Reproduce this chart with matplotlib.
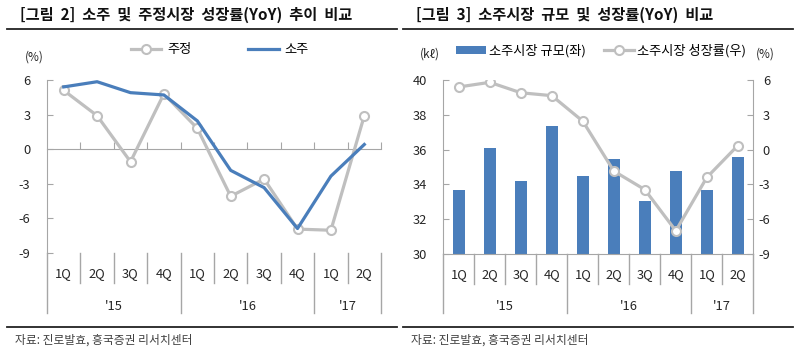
import matplotlib
matplotlib.use("Agg")
import matplotlib.pyplot as plt
from matplotlib.lines import Line2D
from matplotlib.patches import Patch
from matplotlib.transforms import blended_transform_factory
import numpy as np

plt.rcParams['font.family'] = ['Noto Sans CJK KR', 'DejaVu Sans']

# ---------------- data ----------------
quarters = ['1Q', '2Q', '3Q', '4Q', '1Q', '2Q', '3Q', '4Q', '1Q', '2Q']
years = ["'15", "'16", "'17"]
year_counts = [4, 4, 2]

jujeong_growth = [5.1, 2.9, -1.1, 4.8, 1.8, -4.1, -2.6, -6.95, -7.05, 2.9]
soju_growth = [5.4, 5.85, 4.9, 4.7, 2.45, -1.85, -3.35, -6.9, -2.35, 0.4]

soju_market_size = [33.7, 36.1, 34.2, 37.35, 34.5, 35.45, 33.05, 34.75, 33.7, 35.6]
soju_market_growth = [5.4, 5.8, 4.9, 4.65, 2.45, -1.85, -3.45, -7.0, -2.4, 0.35]

left_title = '[그림  2]  소주  및  주정시장  성장률(YoY)  추이  비교'
right_title = '[그림  3]  소주시장  규모  및  성장률(YoY)  비교'
source = '자료: 진로발효, 흥국증권 리서치센터'

BLUE = '#4a7ebb'
GRAY = '#bfbfbf'
AXC = '#a6a6a6'
TXT = '#262626'

W, H = 800, 349
fig = plt.figure(figsize=(W / 100, H / 100), dpi=100)


def fy(py):
    return 1 - py / H


def fx(px):
    return px / W


x = np.arange(len(quarters))


def category_axis(ax, label_py, year_py, qsep_py, ysep_py, top_py):
    tr = blended_transform_factory(ax.transData, fig.transFigure)
    for i, q in enumerate(quarters):
        ax.text(x[i], fy(label_py), q, transform=tr, ha='center', va='center',
                fontsize=9.3, color=TXT)
    bounds = np.cumsum([0] + year_counts) - 0.5
    for b in np.arange(0.5, len(quarters) - 0.5, 1.0):
        if b in bounds:
            continue
        ax.add_line(Line2D([b, b], [fy(top_py), fy(qsep_py)], transform=tr,
                           color=AXC, lw=1, clip_on=False))
    for b in bounds:
        ax.add_line(Line2D([b, b], [fy(top_py), fy(ysep_py)], transform=tr,
                           color=AXC, lw=1, clip_on=False))
    for j, yl in enumerate(years):
        c = (bounds[j] + bounds[j + 1]) / 2
        ax.text(c, fy(year_py), yl, transform=tr, ha='center', va='center',
                fontsize=9.3, color=TXT)


# ---------------- header / footer lines ----------------
fig.text(fx(20), fy(15), left_title, fontsize=11, fontweight='bold',
         ha='left', va='center', color='#111111')
fig.text(fx(416), fy(15), right_title, fontsize=11, fontweight='bold',
         ha='left', va='center', color='#111111')
fig.add_artist(Line2D([fx(7), fx(397)], [fy(29), fy(29)], color='#222222', lw=1.3))
fig.add_artist(Line2D([fx(403), fx(793)], [fy(29), fy(29)], color='#222222', lw=1.3))
fig.add_artist(Line2D([fx(7), fx(397)], [fy(327), fy(327)], color='#222222', lw=1.3))
fig.add_artist(Line2D([fx(403), fx(793)], [fy(327), fy(327)], color='#222222', lw=1.3))
fig.text(fx(15), fy(340), source, fontsize=8.5, ha='left', va='center', color='#404040')
fig.text(fx(411), fy(340), source, fontsize=8.5, ha='left', va='center', color='#404040')

# ---------------- left chart ----------------
L_top, L_bot = 80, 252.7
ax1 = fig.add_axes([fx(47), fy(L_bot), fx(381 - 47), (L_bot - L_top) / H])
ax1.plot(x, jujeong_growth, color=GRAY, lw=2.3, marker='o', ms=6.5,
         mfc='white', mec=GRAY, mew=1.5, zorder=3, label='주정')
ax1.plot(x, soju_growth, color=BLUE, lw=2.3, zorder=4, label='소주')
ax1.set_xlim(-0.5, len(quarters) - 0.5)
ax1.set_ylim(-9, 6)
ax1.set_yticks([6, 3, 0, -3, -6, -9])
ax1.set_yticklabels(['6', '3', '0', '-3', '-6', '-9'])
for s in ['top', 'right']:
    ax1.spines[s].set_visible(False)
ax1.spines['left'].set_color(AXC)
ax1.spines['bottom'].set_color(AXC)
ax1.spines['bottom'].set_position(('data', 0))
ax1.set_xticks(np.arange(0.5, len(quarters), 1.0))
ax1.tick_params(axis='x', direction='in', length=5, color=AXC, labelbottom=False)
ax1.tick_params(axis='y', direction='in', length=4, color=AXC, pad=12,
                labelsize=9.3, labelcolor=TXT)
ax1.patch.set_alpha(0)
category_axis(ax1, 274, 307, 283, 313, L_bot)
fig.text(fx(34), fy(57), '(%)', fontsize=8.5, ha='center', va='center', color=TXT)

h1 = [Line2D([], [], color=GRAY, lw=2.3, marker='o', ms=6.5, mfc='white', mec=GRAY, mew=1.5),
      Line2D([], [], color=BLUE, lw=2.3)]
fig.legend(h1, ['주정', '소주'], loc='center', bbox_to_anchor=(fx(220), fy(50)),
           ncol=2, frameon=False, fontsize=9.5, handlelength=2.3,
           handletextpad=0.45, columnspacing=4.3, borderpad=0)

# ---------------- right chart ----------------
R_top, R_bot = 80, 254
ax2 = fig.add_axes([fx(443.3), fy(R_bot), fx(753.3 - 443.3), (R_bot - R_top) / H])
ax2.bar(x, soju_market_size, width=0.4, color=BLUE, zorder=2)
ax2.set_xlim(-0.5, len(quarters) - 0.5)
ax2.set_ylim(30, 40)
ax2.set_yticks([30, 32, 34, 36, 38, 40])
ax2.set_xticks([])
ax2.spines['top'].set_visible(False)
ax2.spines['right'].set_visible(False)
ax2.spines['left'].set_color(AXC)
ax2.spines['bottom'].set_color(AXC)
ax2.tick_params(axis='y', direction='in', length=4, color=AXC, pad=12,
                labelsize=9.3, labelcolor=TXT)

ax3 = ax2.twinx()
ax3.plot(x, soju_market_growth, color=GRAY, lw=2.3, marker='o', ms=6.5,
         mfc='white', mec=GRAY, mew=1.5, zorder=3)
ax3.set_ylim(-9, 6)
ax3.set_yticks([6, 3, 0, -3, -6, -9])
ax3.set_yticklabels(['6', '3', '0', '-3', '-6', '-9'])
for s in ['top', 'left', 'bottom']:
    ax3.spines[s].set_visible(False)
ax3.spines['right'].set_color(AXC)
ax3.tick_params(axis='y', direction='in', length=4, color=AXC, pad=12,
                labelsize=9.3, labelcolor=TXT)
for t in ax3.get_yticklabels():
    t.set_horizontalalignment('right')
category_axis(ax2, 275, 307, 284, 313, R_bot)
fig.text(fx(430), fy(54), '(kℓ)', fontsize=8.5, ha='center', va='center', color=TXT)
fig.text(fx(765), fy(54), '(%)', fontsize=8.5, ha='center', va='center', color=TXT)

h2 = [Patch(facecolor=BLUE, edgecolor='none'),
      Line2D([], [], color=GRAY, lw=2.3, marker='o', ms=6.5, mfc='white', mec=GRAY, mew=1.5)]
fig.legend(h2, ['소주시장 규모(좌)', '소주시장 성장률(우)'], loc='center',
           bbox_to_anchor=(fx(601), fy(51)), ncol=2, frameon=False, fontsize=9.5,
           handlelength=2.3, handleheight=0.55, handletextpad=0.25,
           columnspacing=1.3, borderpad=0)

fig.savefig('out.png', dpi=100)
